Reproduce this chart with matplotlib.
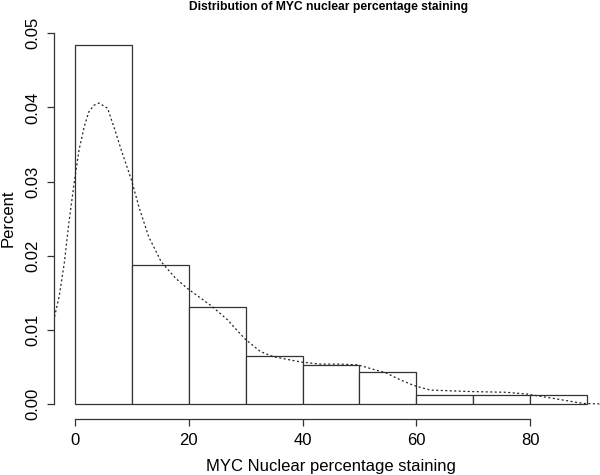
import numpy as np
import matplotlib.pyplot as plt

plt.rcParams['font.family'] = ['Liberation Sans', 'DejaVu Sans']

# histogram bins (density scale)
bin_edges = [0, 10, 20, 30, 40, 50, 60, 70, 80, 90]
bin_density = [0.0484, 0.0187, 0.0131, 0.0065, 0.0053, 0.0044, 0.00125, 0.00125, 0.00125]

# kernel density curve
dens_x = [-3.5, -2.7, -1.8, -1.0, 0.0, 0.8, 1.7, 2.5, 3.4, 4.3, 5.8, 6.9, 8.4, 10.0,
          11.3, 13.0, 15.2, 17.7, 19.8, 24.1, 26.8, 29.9, 32.6, 34.9, 39.6, 43.1,
          46.5, 49.7, 54.7, 57.1, 59.6, 62.4, 69.6, 75.8, 79.5, 84.6, 89.2, 93.6]
dens_y = [0.0118, 0.0145, 0.0190, 0.0244, 0.0302, 0.0343, 0.0374, 0.0394, 0.0403,
          0.0406, 0.0399, 0.0374, 0.0338, 0.0302, 0.0266, 0.0226, 0.0192, 0.0170,
          0.0156, 0.0132, 0.0114, 0.0088, 0.0071, 0.0064, 0.0057, 0.0054, 0.0054,
          0.0053, 0.0042, 0.0033, 0.0025, 0.0019, 0.0017, 0.0016, 0.00135, 0.0007,
          0.0001, 0.0]

x_ticks = [0, 20, 40, 60, 80]
y_ticks = [0.00, 0.01, 0.02, 0.03, 0.04, 0.05]

fig = plt.figure(figsize=(6, 4.75), dpi=100)
ax = fig.add_axes([54 / 600, (475 - 419) / 475, (608 - 54) / 600, (419 - 18.5) / 475])

edge = '#333333'
lefts = np.array(bin_edges[:-1])
widths = np.diff(bin_edges)
ax.bar(lefts, bin_density, width=widths, align='edge', color='white',
       edgecolor=edge, linewidth=0.9)

ax.plot(dens_x, dens_y, color='#222222', linewidth=0.9, linestyle=(0, (1.6, 2.0)))

ax.set_xlim(-3.6, 93.6)
ax.set_ylim(-0.002, 0.052)

for s in ['top', 'right']:
    ax.spines[s].set_visible(False)
ax.spines['left'].set_bounds(0, 0.05)
ax.spines['bottom'].set_bounds(0, 80)
for s in ['left', 'bottom']:
    ax.spines[s].set_color(edge)
    ax.spines[s].set_linewidth(0.9)

ax.set_xticks(x_ticks)
ax.set_xticklabels([str(t) for t in x_ticks])
ax.set_yticks(y_ticks)
ax.set_yticklabels(['%.2f' % t for t in y_ticks], rotation=90, va='center')
ax.tick_params(direction='out', length=5, width=0.9, color=edge, labelsize=12, pad=5)

fig.text(331 / 600, 1 - 466 / 475, 'MYC Nuclear percentage staining',
         ha='center', va='center', fontsize=12)
fig.text(8 / 600, 1 - 218 / 475, 'Percent', rotation=90,
         ha='center', va='center', fontsize=12)
fig.text(329 / 600, 1 - 7 / 475, 'Distribution of MYC nuclear percentage staining',
         ha='center', va='center', fontsize=8.7, fontweight='bold')

fig.savefig('out.png', dpi=100)
